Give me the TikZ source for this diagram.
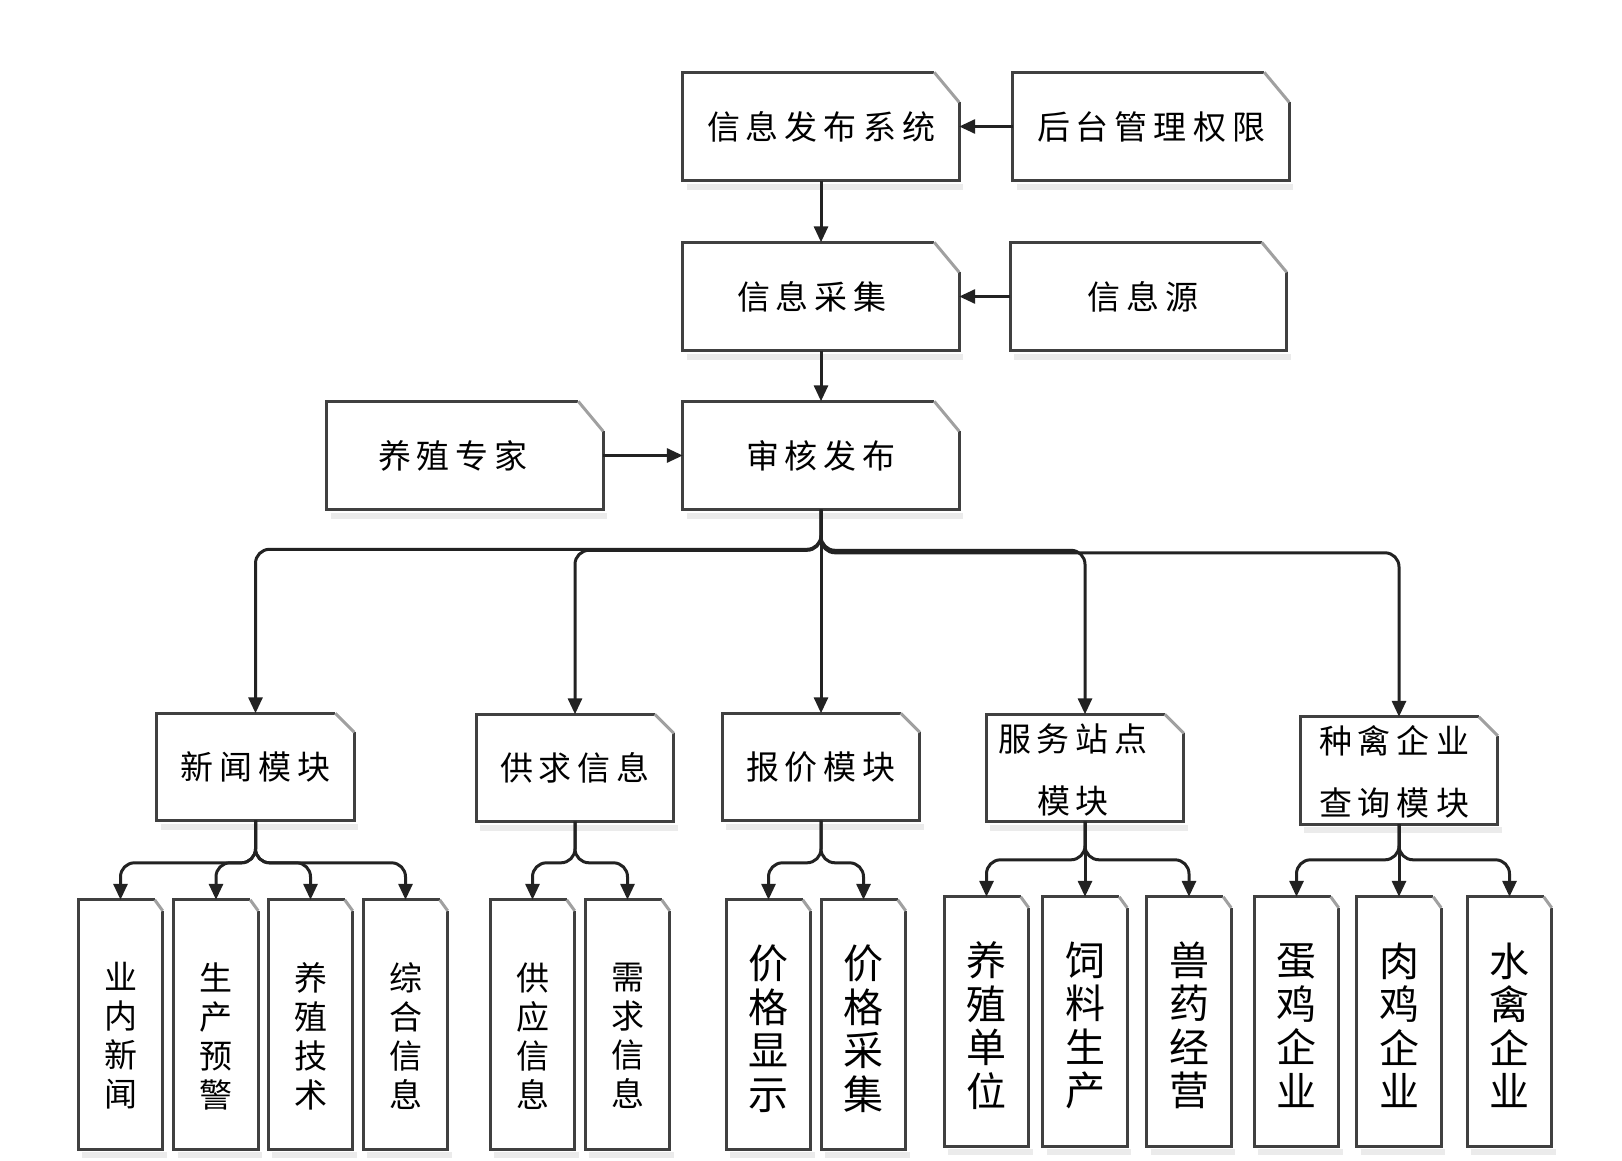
\documentclass[tikz,border=0pt]{standalone}
\usepackage{fontspec}
\setmainfont{Noto Sans CJK SC}
\usetikzlibrary{arrows.meta,calc}
\definecolor{edgec}{HTML}{404040}
\definecolor{diagc}{HTML}{A0A0A0}
\definecolor{linec}{HTML}{222222}
\definecolor{shadowc}{HTML}{EBEBEB}
\newcommand\gp{\kern6pt}
\newcommand\foldbox[3]{%
  \draw[line width=6pt, shadowc] ($(#1.south west)+(4,6)$) -- ($(#1.south east)+(4,6)$);
  \draw[edgebox] ($(#1.north east)+(-#2,0)$) -- (#1.north west) -- (#1.south west) -- (#1.south east) -- ($(#1.north east)+(0,#3)$);
  \draw[diagline] ($(#1.north east)+(-#2,0)$) -- ($(#1.north east)+(0,#3)$);
}
\begin{document}
\begin{tikzpicture}[x=1pt,y=-1pt,
  bigbox/.style={inner sep=0pt, minimum width=276pt, minimum height=108pt, font=\fontsize{33}{40}\selectfont},
  bigtext/.style={inner sep=0pt, font=\fontsize{33}{40}\selectfont},
  modbox/.style={inner sep=0pt, minimum width=197pt, minimum height=107pt, font=\fontsize{33}{62}\selectfont, align=center},
  modtext/.style={inner sep=0pt, font=\fontsize{33}{62}\selectfont, align=center},
  leafbox/.style={inner sep=0pt, minimum width=84pt, minimum height=249pt},
  leaftxtA/.style={inner sep=0pt, align=center, font=\fontsize{33}{39}\selectfont},
  leaftxtB/.style={inner sep=0pt, align=center, font=\fontsize{40}{43.5}\selectfont},
  conn/.style={draw=linec, line width=3pt, -{Triangle[length=16pt,width=14pt]}},
  bus/.style={conn, rounded corners=14pt},
  edgebox/.style={draw=edgec, line width=3pt},
  diagline/.style={draw=diagc, line width=3pt},
]
\useasboundingbox (0,0) rectangle (1622,1161);
% top boxes
\node[bigbox] (pub) at (821,126.5) {信\gp 息\gp 发\gp 布\gp 系\gp 统};
\node[bigbox] (perm) at (1151,126.5) {后\gp 台\gp 管\gp 理\gp 权\gp 限};
\node[bigbox] (coll) at (821,296.5) {};
\node[bigtext] (collt) at (812,296.5) {信\gp 息\gp 采\gp 集};
\node[bigbox] (src) at (1148.5,296.5) {};
\node[bigtext] (srct) at (1143,296.5) {信\gp 息\gp 源};
\node[bigbox] (expert) at (465,455.5) {};
\node[bigtext] (expertt) at (453,455.5) {养\gp 殖\gp 专\gp 家};
\node[bigbox] (audit) at (821,455.5) {审\gp 核\gp 发\gp 布};
\foreach \n in {pub,perm,coll,src,expert,audit}{\foldbox{\n}{25}{30}}
% modules
\node[modbox] (news) at (255.5,767) {新\gp 闻\gp 模\gp 块};
\node[modbox] (supply) at (575,768) {供\gp 求\gp 信\gp 息};
\node[modbox] (price) at (821,767) {报\gp 价\gp 模\gp 块};
\node[modbox] (service) at (1085,768) {};
\node[modtext] (servicet) at (1073,770) {服\gp 务\gp 站\gp 点\\模\gp 块};
\node[modbox] (breed) at (1399,770.5) {};
\node[modtext] (breedt) at (1394,772) {种\gp 禽\gp 企\gp 业\\查\gp 询\gp 模\gp 块};
\foreach \n in {news,supply,price,service,breed}{\foldbox{\n}{19}{19}}
% leaves group A
\foreach \n/\x/\t in {l1/120.5/业\\内\\新\\闻, l2/216/生\\产\\预\\警, l3/310.5/养\\殖\\技\\术, l4/405.5/综\\合\\信\\息, l5/532.5/供\\应\\信\\息, l6/627.5/需\\求\\信\\息}{
  \node[leafbox] (\n) at (\x,1024.5) {};
  \node[leaftxtA] (\n t) at (\x,1036) {\t};
}
% leaves group B
\foreach \n/\x/\y/\t in {l7/768.5/1024.5/价\\格\\显\\示, l8/863.5/1024.5/价\\格\\采\\集, l9/986.5/1021.5/养\\殖\\单\\位, l10/1085/1021.5/饲\\料\\生\\产, l11/1189/1021.5/兽\\药\\经\\营, l12/1296.5/1021.5/蛋\\鸡\\企\\业, l13/1399/1021.5/肉\\鸡\\企\\业, l14/1509.5/1021.5/水\\禽\\企\\业}{
  \node[leafbox] (\n) at (\x,\y) {};
  \node[leaftxtB] (\n t) at (\x,\y+4) {\t};
}
\foreach \n in {l1,l2,l3,l4,l5,l6,l7,l8,l9,l10,l11,l12,l13,l14}{\foldbox{\n}{8}{11}}
% top connectors
\draw[conn] (perm.west) -- (pub.east);
\draw[conn] (src.west) -- (coll.east);
\draw[conn] (expert.east) -- (audit.west);
\draw[conn] (pub.south) -- (coll.north);
\draw[conn] (coll.south) -- (audit.north);
% main bus
\foreach \m in {news,supply,service,breed}{
  \draw[bus] (audit.south) |- ($(\m.north)+(0,-164)$) -- (\m.north);
}
\draw[conn] (audit.south) -- (price.north);
% sub buses
\foreach \p/\c in {news/l1,news/l2,news/l3,news/l4,supply/l5,supply/l6,price/l7,price/l8,service/l9,service/l11,breed/l12,breed/l14}{
  \draw[bus] (\p.south) |- ($(\c.north)+(0,-37)$) -- (\c.north);
}
\draw[conn] (service.south) -- (l10.north);
\draw[conn] (breed.south) -- (l13.north);
\end{tikzpicture}
\end{document}
